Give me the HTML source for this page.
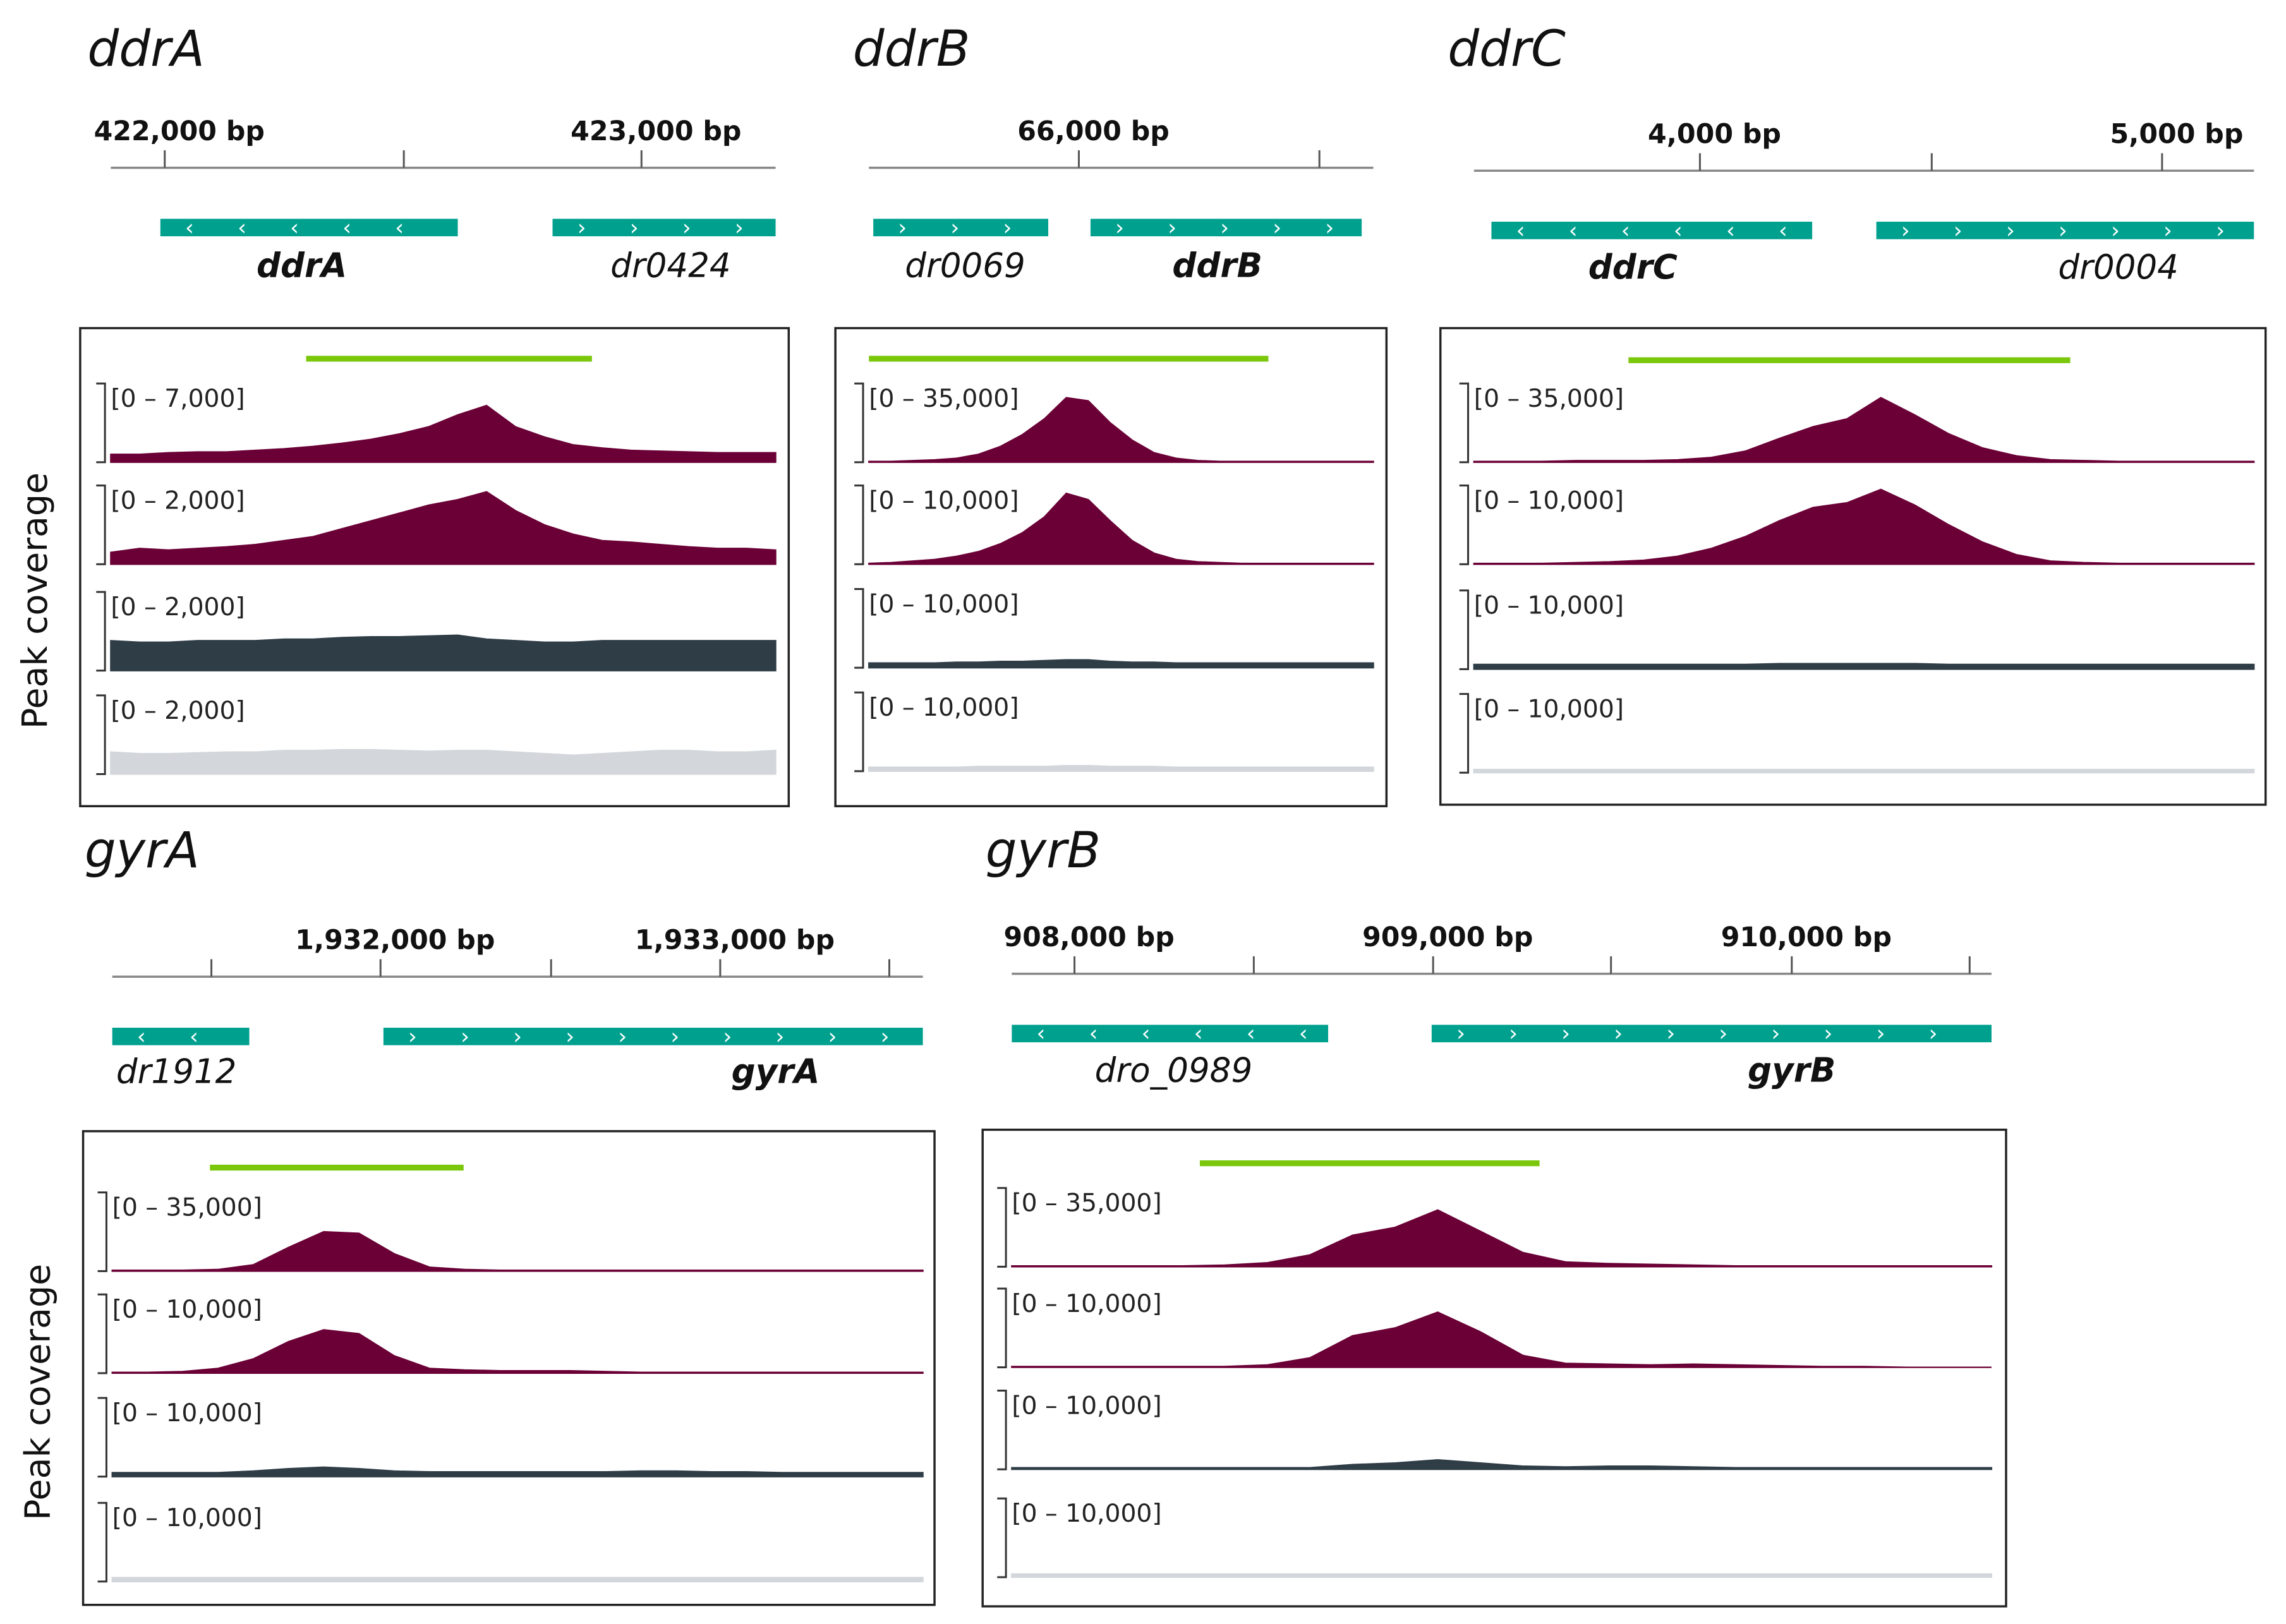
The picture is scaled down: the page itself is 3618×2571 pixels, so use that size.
<!DOCTYPE html>
<html><head><meta charset="utf-8">
<style>
html,body{margin:0;padding:0;background:#fff;}
svg{display:block;font-family:"DejaVu Sans","Liberation Sans",sans-serif;}
</style></head>
<body>
<svg id="fig" width="3618" height="2571" viewBox="0 0 1568 1114" xmlns="http://www.w3.org/2000/svg">
<text x="0" y="0" transform="translate(32,412) rotate(-90)" text-anchor="middle" font-size="24" fill="#111">Peak coverage</text>
<text x="0" y="0" transform="translate(34,955) rotate(-90)" text-anchor="middle" font-size="24" fill="#111">Peak coverage</text>
</svg>
<script>
// ---- data: coverage fractions of track range ----
const ddrA_t1=[0.1,0.1,0.12,0.13,0.13,0.15,0.17,0.2,0.24,0.29,0.36,0.45,0.6,0.72,0.45,0.32,0.22,0.18,0.15,0.14,0.13,0.12,0.12,0.12];
const ddrA_t2=[0.15,0.2,0.18,0.2,0.22,0.25,0.3,0.35,0.45,0.55,0.65,0.75,0.82,0.92,0.68,0.5,0.38,0.3,0.28,0.25,0.22,0.2,0.2,0.18];
const ddrA_t3=[0.38,0.36,0.36,0.38,0.38,0.38,0.4,0.4,0.42,0.43,0.43,0.44,0.45,0.4,0.38,0.36,0.36,0.38,0.38,0.38,0.38,0.38,0.38,0.38];
const ddrA_t4=[0.28,0.26,0.26,0.27,0.28,0.28,0.3,0.3,0.31,0.31,0.3,0.29,0.3,0.3,0.28,0.26,0.24,0.26,0.28,0.3,0.3,0.28,0.28,0.3];
const ddrB_t1=[0.01,0.01,0.02,0.03,0.05,0.1,0.2,0.35,0.55,0.82,0.78,0.5,0.28,0.12,0.05,0.02,0.01,0.01,0.01,0.01,0.01,0.01,0.01,0.01];
const ddrB_t2=[0.01,0.02,0.04,0.06,0.1,0.16,0.26,0.4,0.6,0.9,0.82,0.55,0.3,0.14,0.06,0.03,0.02,0.01,0.01,0.01,0.01,0.01,0.01,0.01];
const ddrB_t3=[0.06,0.06,0.06,0.06,0.07,0.07,0.08,0.08,0.09,0.1,0.1,0.08,0.07,0.07,0.06,0.06,0.06,0.06,0.06,0.06,0.06,0.06,0.06,0.06];
const ddrB_t4=[0.05,0.05,0.05,0.05,0.05,0.06,0.06,0.06,0.06,0.07,0.07,0.06,0.06,0.06,0.05,0.05,0.05,0.05,0.05,0.05,0.05,0.05,0.05,0.05];
const ddrC_t1=[0.01,0.01,0.01,0.02,0.02,0.02,0.03,0.06,0.14,0.3,0.45,0.55,0.82,0.6,0.36,0.18,0.08,0.03,0.02,0.01,0.01,0.01,0.01,0.01];
const ddrC_t2=[0.01,0.01,0.01,0.02,0.03,0.05,0.1,0.2,0.35,0.55,0.72,0.78,0.95,0.75,0.5,0.28,0.12,0.04,0.02,0.01,0.01,0.01,0.01,0.01];
const ddrC_t3=[0.06,0.06,0.06,0.06,0.06,0.06,0.06,0.06,0.06,0.07,0.07,0.07,0.07,0.07,0.06,0.06,0.06,0.06,0.06,0.06,0.06,0.06,0.06,0.06];
const ddrC_t4=[0.04,0.04,0.04,0.04,0.04,0.04,0.04,0.04,0.04,0.04,0.04,0.04,0.04,0.04,0.04,0.04,0.04,0.04,0.04,0.04,0.04,0.04,0.04,0.04];
const gyrA_t1=[0.01,0.01,0.01,0.02,0.08,0.3,0.5,0.48,0.22,0.05,0.02,0.01,0.01,0.01,0.01,0.01,0.01,0.01,0.01,0.01,0.01,0.01,0.01,0.01];
const gyrA_t2=[0.01,0.01,0.02,0.06,0.18,0.4,0.55,0.5,0.22,0.06,0.04,0.03,0.03,0.03,0.02,0.01,0.01,0.01,0.01,0.01,0.01,0.01,0.01,0.01];
const gyrA_t3=[0.05,0.05,0.05,0.05,0.07,0.1,0.12,0.1,0.07,0.06,0.06,0.06,0.06,0.06,0.06,0.07,0.07,0.06,0.06,0.05,0.05,0.05,0.05,0.05];
const gyrA_t4=[0.05,0.05,0.05,0.05,0.05,0.05,0.05,0.05,0.05,0.05,0.05,0.05,0.05,0.05,0.05,0.05,0.05,0.05,0.05,0.05,0.05,0.05,0.05,0.05];
const gyrB_t1=[0.01,0.01,0.01,0.01,0.01,0.02,0.05,0.15,0.4,0.5,0.72,0.45,0.18,0.06,0.04,0.03,0.02,0.01,0.01,0.01,0.01,0.01,0.01,0.01];
const gyrB_t2=[0.01,0.01,0.01,0.01,0.01,0.01,0.03,0.12,0.4,0.5,0.7,0.45,0.15,0.05,0.04,0.03,0.04,0.03,0.02,0.01,0.01,0.0,0.0,0.0];
const gyrB_t3=[0.02,0.02,0.02,0.02,0.02,0.02,0.02,0.02,0.06,0.08,0.12,0.08,0.04,0.03,0.04,0.04,0.03,0.02,0.02,0.02,0.02,0.02,0.02,0.02];
const gyrB_t4=[0.04,0.04,0.04,0.04,0.04,0.04,0.04,0.04,0.04,0.04,0.04,0.04,0.04,0.04,0.04,0.04,0.04,0.04,0.04,0.04,0.04,0.04,0.04,0.04];
const rangeLabels=["[0 – 7,000]","[0 – 2,000]","[0 – 2,000]","[0 – 2,000]","[0 – 35,000]","[0 – 10,000]","[0 – 10,000]","[0 – 10,000]"];
const trackColors=["#6b0036","#6b0036","#2f3d47","#d3d7db"];

const NS="http://www.w3.org/2000/svg";
const svg=document.getElementById('fig');
function mk(tag,attrs,parent){const e=document.createElementNS(NS,tag);for(const k in attrs)e.setAttribute(k,attrs[k]);(parent||svg).appendChild(e);return e;}

const panels=[
 {name:"ddrA",tx:60,ty:45,ax0:76,ax1:532,ay:115,ticks:[[113,"422,000 bp"],[277,""],[440,"423,000 bp"]],
  genes:[[110,314,-1,"ddrA",207,true],[379,532,1,"dr0424",460,false]],gy:150,ly:190,
  box:[55,225,541,553],green:[210,406,246],bases:[317,387,460,531],ranges:[0,1,2,3],
  tracks:[ddrA_t1,ddrA_t2,ddrA_t3,ddrA_t4]},
 {name:"ddrB",tx:585,ty:45,ax0:596,ax1:942,ay:115,ticks:[[740,"66,000 bp"],[905,""]],
  genes:[[599,719,1,"dr0069",662,false],[748,934,1,"ddrB",835,true]],gy:150,ly:190,
  box:[573,225,951,553],green:[596,870,246],bases:[317,387,458,529],ranges:[4,5,6,7],
  tracks:[ddrB_t1,ddrB_t2,ddrB_t3,ddrB_t4]},
 {name:"ddrC",tx:993,ty:45,ax0:1011,ax1:1546,ay:117,ticks:[[1166,"4,000 bp"],[1325,""],[1483,"5,000 bp"]],
  genes:[[1023,1243,-1,"ddrC",1120,true],[1287,1546,1,"dr0004",1453,false]],gy:152,ly:191,
  box:[988,225,1554,552],green:[1117,1420,247],bases:[317,387,459,530],ranges:[4,5,6,7],
  tracks:[ddrC_t1,ddrC_t2,ddrC_t3,ddrC_t4]},
 {name:"gyrA",tx:58,ty:595,ax0:77,ax1:633,ay:670,ticks:[[145,""],[261,"1,932,000 bp"],[378,""],[494,"1,933,000 bp"],[610,""]],
  genes:[[77,171,-1,"dr1912",121,false],[263,633,1,"gyrA",532,true]],gy:705,ly:743,
  box:[57,776,641,1101],green:[144,318,801],bases:[872,942,1013,1085],ranges:[4,5,6,7],
  tracks:[gyrA_t1,gyrA_t2,gyrA_t3,gyrA_t4]},
 {name:"gyrB",tx:676,ty:595,ax0:694,ax1:1366,ay:668,ticks:[[737,"908,000 bp"],[860,""],[983,"909,000 bp"],[1105,""],[1229,"910,000 bp"],[1351,""]],
  genes:[[694,911,-1,"dro_0989",805,false],[982,1366,1,"gyrB",1229,true]],gy:703,ly:742,
  box:[674,775,1376,1102],green:[823,1056,798],bases:[869,938,1008,1082],ranges:[4,5,6,7],
  tracks:[gyrB_t1,gyrB_t2,gyrB_t3,gyrB_t4]}
];

panels.forEach(p=>{
  const g=mk('g',{});
  
  
  const t=mk('text',{x:p.tx,y:p.ty,'font-size':34,'font-style':'italic',fill:'#111'},g);
  
  
  t.textContent=p.name;
  const ax=mk('line',{x1:p.ax0,x2:p.ax1,y1:p.ay,y2:p.ay,stroke:'#888','stroke-width':1.5},g);
  
  
  p.ticks.forEach(tk=>{
    const l=mk('line',{x1:tk[0],x2:tk[0],y1:p.ay-12,y2:p.ay,stroke:'#555','stroke-width':1.3},g);
    
    
    if(tk[1]){const tl=mk('text',{x:tk[0]+10,y:p.ay-19,'text-anchor':'middle','font-size':18.5,'font-weight':'bold',fill:'#111'},g);
      
      
      tl.textContent=tk[1];}
  });
  p.genes.forEach(gn=>{
    const r=mk('rect',{x:gn[0],y:p.gy,width:gn[1]-gn[0],height:12,fill:'#00a08e'},g);
    
    
    for(let x=gn[0]+20;x<gn[1]-6;x+=36){
      const c=mk('text',{x:x,y:p.gy+11,'font-size':15,fill:'#fff','text-anchor':'middle'},g);
      
      
      c.textContent=gn[2]<0?'‹':'›';
    }
    const gl=mk('text',{x:gn[4],y:p.ly,'text-anchor':'middle','font-size':23,'font-style':'italic','font-weight':gn[5]?'bold':'normal',fill:'#111'},g);
    
    
    gl.textContent=gn[3];
  });
  const b=p.box;
  const bx=mk('rect',{x:b[0],y:b[1],width:b[2]-b[0],height:b[3]-b[1],fill:'none',stroke:'#222','stroke-width':1.5},g);
  
  
  const gr=mk('line',{x1:p.green[0],x2:p.green[1],y1:p.green[2],y2:p.green[2],stroke:'#7ac70c','stroke-width':4},g);
  
  
  const H=54;
  p.tracks.forEach((vals,ti)=>{
    const base=p.bases[ti],top=base-H;
    const bx0=p.ax0-4;
    const br=mk('path',{d:`M${bx0-6},${top} H${bx0} V${base} H${bx0-6}`,fill:'none',stroke:'#333','stroke-width':1.3},g);
    
    
    const rl=mk('text',{x:p.ax0,y:top+16,'font-size':17,fill:'#222'},g);
    
    
    rl.textContent=rangeLabels[p.ranges[ti]];
    const n=vals.length;
    const xs=i=>p.ax0+i/(n-1)*(p.ax1-p.ax0);
    const ys=v=>base-v*H;
    let d=`M${xs(0)},${base}`;
    vals.forEach((v,i)=>{d+=` L${xs(i)},${ys(v)}`;});
    d+=` L${xs(n-1)},${base} Z`;
    const a=mk('path',{d:d,fill:trackColors[ti],stroke:trackColors[ti],'stroke-width':1},g);
    
    
  });
});
</script>
</body></html>
